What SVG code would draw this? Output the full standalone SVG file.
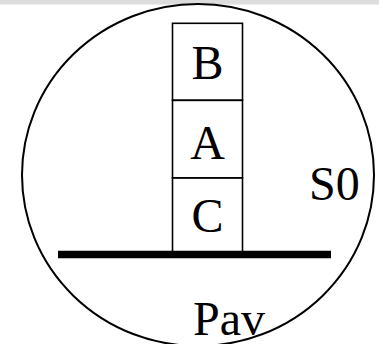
<svg xmlns="http://www.w3.org/2000/svg" width="379" height="344" viewBox="0 0 379 344">
<style>
.box{fill:none;stroke:#000;stroke-width:1.6}
.lbl{font-family:"Liberation Serif","Times New Roman",serif;font-size:48px;fill:#000}
</style>
<rect x="0" y="0" width="379" height="4.5" fill="#dcdcdc"/>
<g id="S0">
<ellipse cx="198" cy="175" rx="176" ry="171" fill="none" stroke="#000" stroke-width="2"/>
<text class="lbl" x="309" y="200">S0</text>
</g>
<g id="Pav">
<line x1="58" y1="254.5" x2="331" y2="254.5" stroke="#000" stroke-width="7.6"/>
<text class="lbl" x="193" y="335">Pav</text>
</g>
<g id="B">
<rect class="box" x="172.5" y="23.3" width="70" height="77"/>
<text class="lbl" x="207.5" y="78.5" text-anchor="middle">B</text>
</g>
<g id="A">
<rect class="box" x="172.5" y="100.3" width="70" height="77.5"/>
<text class="lbl" x="207.5" y="158.5" text-anchor="middle">A</text>
</g>
<g id="C">
<rect class="box" x="172.5" y="177.8" width="70" height="76.7"/>
<text class="lbl" x="207.5" y="231.5" text-anchor="middle">C</text>
</g>
<g id="connectors"/>
</svg>
